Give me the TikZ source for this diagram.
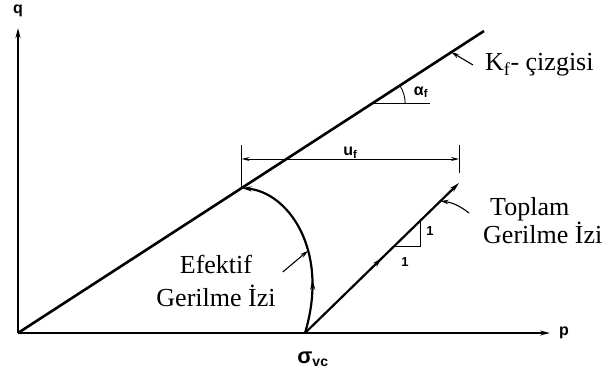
\documentclass[tikz,border=0pt]{standalone}
\usepackage{fontspec}
\setmainfont{Liberation Serif}
\setsansfont{Liberation Sans}
\usetikzlibrary{arrows.meta,calc,decorations.markings}

\begin{document}
\begin{tikzpicture}[
  x=1pt, y=-1pt,
  font=\fontsize{26}{26}\selectfont,
  >={Stealth[length=10pt, width=5pt]},
  axis/.style={->, line width=1.6pt},
  kline/.style={line width=2.6pt},
  spath/.style={line width=2.2pt},
  dim/.style={line width=0.9pt},
  ptr/.style={-{Stealth[length=8pt, width=4.5pt]}, line width=1.1pt},
  lbl/.style={font=\sffamily\bfseries\fontsize{16}{18}\selectfont, inner sep=1pt},
  ann/.style={font=\fontsize{26}{26}\selectfont, inner sep=0pt},
  midarrow/.style={postaction={decorate}, decoration={markings,
    mark=at position #1 with {\arrow{Stealth[length=10pt, width=5pt]}}}},
]
\useasboundingbox (0,0) rectangle (607,380);

% ---- axes ----
\coordinate (O) at (18,333);
\coordinate (Q) at (18,28);
\coordinate (P) at (550,333);
\draw[axis] (O) -- (Q);
\draw[axis] (O) -- (P);
\node[lbl] (qlab) at (18,11) {q};
\node[lbl] (plab) at (564,333) {p};

% ---- failure line ----
\coordinate (E) at (484,31);
\draw[kline] (O) -- coordinate[pos=0.48] (A) coordinate[pos=0.76] (V)
  coordinate[pos=0.93] (K) (E);
\node[ann, anchor=west] (kf) at (485,65) {K\textsubscript{f}- çizgisi};
\draw[ptr] ([xshift=-12pt]kf.west) -- (K);

% ---- angle alpha_f ----
\coordinate (H) at ($(V)+(58,0)$);
\draw[dim] (V) -- (H);
\draw[dim] ($(V)+(33,0)$) arc[start angle=0, end angle=33, radius=33pt];
\node[lbl] (alab) at (421,92) {α\textsubscript{f}};

% ---- effective stress path ----
\coordinate (S) at (305,333);
\draw[spath, ->, midarrow=0.3] (S) .. controls (330,250) and (288,192) ..
  coordinate[pos=0.38] (et) (A);
\node[ann, align=center] (ef) at (216,281) {Efektif\\[7pt]Gerilme İzi};
\draw[ptr] ([shift={(7,-9)}]ef.east) -- (et);

% ---- total stress path ----
\coordinate (T) at (459,183);
\draw[spath, ->, midarrow=0.5] (S) -- coordinate[pos=0.58] (b1)
  coordinate[pos=0.75] (b2) coordinate[pos=0.88] (tt) (T);
\draw[dim] (b1) -| (b2);
\node[lbl, font=\sffamily\bfseries\fontsize{13}{14}\selectfont] (one1) at (430,231) {1};
\node[lbl, font=\sffamily\bfseries\fontsize{13}{14}\selectfont] (one2) at (405,262) {1};
\node[ann, align=left, anchor=west] (top) at (483,221) {\hspace*{7pt}Toplam\\Gerilme İzi};
\draw[ptr] ([shift={(-14,-8)}]top.west) to[bend right=15] (tt);

% ---- u_f dimension ----
\coordinate (ul) at (A |- 0,145);
\coordinate (ur) at (T |- 0,145);
\coordinate (ue) at (459,173);
\draw[dim] (A) -- (ul);
\draw[dim] (ue) -- (ur);
\draw[dim, <->, >={Stealth[length=8pt, width=4pt]}] ($(A |- 0,159)$) --
  node[lbl, above=-1pt] (ulab) {u\textsubscript{f}} ($(T |- 0,159)$);

% ---- sigma_vc ----
\node[lbl, font=\sffamily\bfseries\fontsize{22}{24}\selectfont] (sig) at (313,359)
  {σ\textsubscript{\fontsize{14}{14}\selectfont vc}};
\end{tikzpicture}
\end{document}
